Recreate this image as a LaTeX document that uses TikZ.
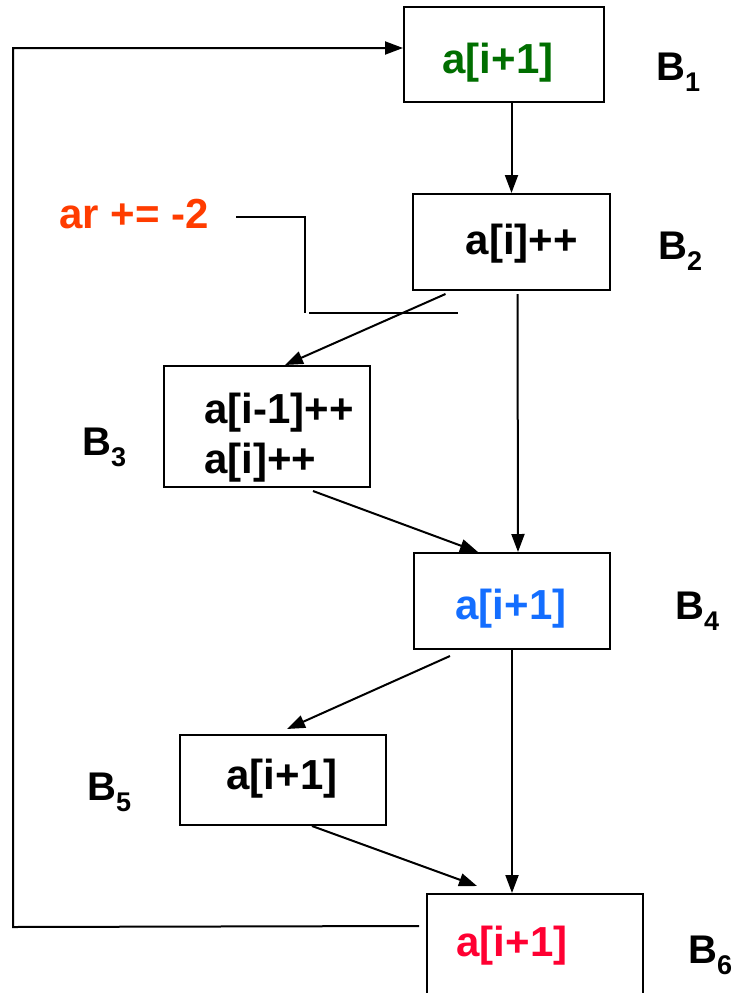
\documentclass[tikz,border=0pt]{standalone}
\usepackage{fontspec}
\setmainfont{Liberation Sans}
\usetikzlibrary{arrows.meta}
\definecolor{blkgreen}{RGB}{0, 110, 0}
\definecolor{blkblue}{RGB}{20, 110, 255}
\definecolor{blkred}{RGB}{255, 0, 50}
\definecolor{arorange}{RGB}{255, 60, 0}
\newcommand{\bsub}[1]{B\raisebox{-11pt}{\fontsize{27}{27}\selectfont #1}}

\begin{document}
\begin{tikzpicture}[x=1pt, y=-1pt,
        blk/.style={draw, line width=2pt, inner sep=0pt},
        txt/.style={inner sep=0pt, anchor=base,
                    font=\fontsize{42}{50}\selectfont\bfseries},
        lbl/.style={inner sep=0pt, anchor=base west,
                    font=\fontsize{40}{44}\selectfont\bfseries},
        arr/.style={line width=2pt, -{Triangle[length=18pt, width=13pt]}},
        ln/.style={line width=2pt}
    ]
    \clip (0, 0) rectangle (735, 993);

    % blocks
    \node[blk, minimum width=200, minimum height=95] (b1) at (504, 54.5) {};
    \node[txt, text=blkgreen] (t1) at (498, 73) {a[i+1]};
    \node[blk, minimum width=197, minimum height=96] (b2) at (511.5, 242) {};
    \node[txt] (t2) at (522, 254) {a[i]++};
    \node[blk, minimum width=206, minimum height=121] (b3) at (267, 426.5) {};
    \node[txt, anchor=base west, align=left] (t3) at (204, 473) {a[i-1]++\\a[i]++};
    \node[blk, minimum width=196, minimum height=96] (b4) at (512, 601) {};
    \node[txt, text=blkblue] (t4) at (511, 619) {a[i+1]};
    \node[blk, minimum width=206, minimum height=90] (b5) at (283, 780) {};
    \node[txt] (t5) at (282, 789) {a[i+1]};
    \node[blk, minimum width=216, minimum height=132] (b6) at (535, 960) {};
    \node[txt, text=blkred] (t6) at (512, 956) {a[i+1]};

    % block names
    \node[lbl] (n1) at (656, 80) {\bsub{1}};
    \node[lbl] (n2) at (658, 259) {\bsub{2}};
    \node[lbl] (n3) at (82, 455) {\bsub{3}};
    \node[lbl] (n4) at (675, 619) {\bsub{4}};
    \node[lbl] (n5) at (87, 800) {\bsub{5}};
    \node[lbl] (n6) at (688, 963) {\bsub{6}};

    % edges
    \draw[arr] (b1.south -| b2.north) -- (b2.north);
    \draw[arr] ([xshift=-66pt, yshift=-3pt]b2.south) -- ([xshift=18pt]b3.north);
    \draw[arr] ([xshift=6pt, yshift=-3pt]b2.south) -- ([xshift=6pt]b4.north);
    \draw[arr] ([xshift=46pt, yshift=-3pt]b3.south) -- ([xshift=-34pt]b4.north);
    \draw[arr] ([xshift=-62pt, yshift=-6pt]b4.south) -- ([xshift=4pt, yshift=5pt]b5.north);
    \draw[arr] (b4.south) -- (b4.south |- b6.north);
    \draw[arr] ([xshift=29pt]b5.south) -- ([xshift=-58pt, yshift=7pt]b6.north);
    \draw[arr] ([xshift=-7pt, yshift=-33pt]b6.north west) -- (13, 927) |- ([yshift=6.5pt]b1.west);

    % ar annotation
    \node[txt, anchor=base west, text=arorange] (ar) at (59, 228) {ar += -2};
    \coordinate (m0) at (236, 217);
    \coordinate (m3) at (305, 313);
    \coordinate (m1) at (309, 313);
    \coordinate (m2) at (458, 313);
    \draw[ln] (m0) -| (m3);
    \draw[ln] (m1) -- (m2);

\end{tikzpicture}
\end{document}
